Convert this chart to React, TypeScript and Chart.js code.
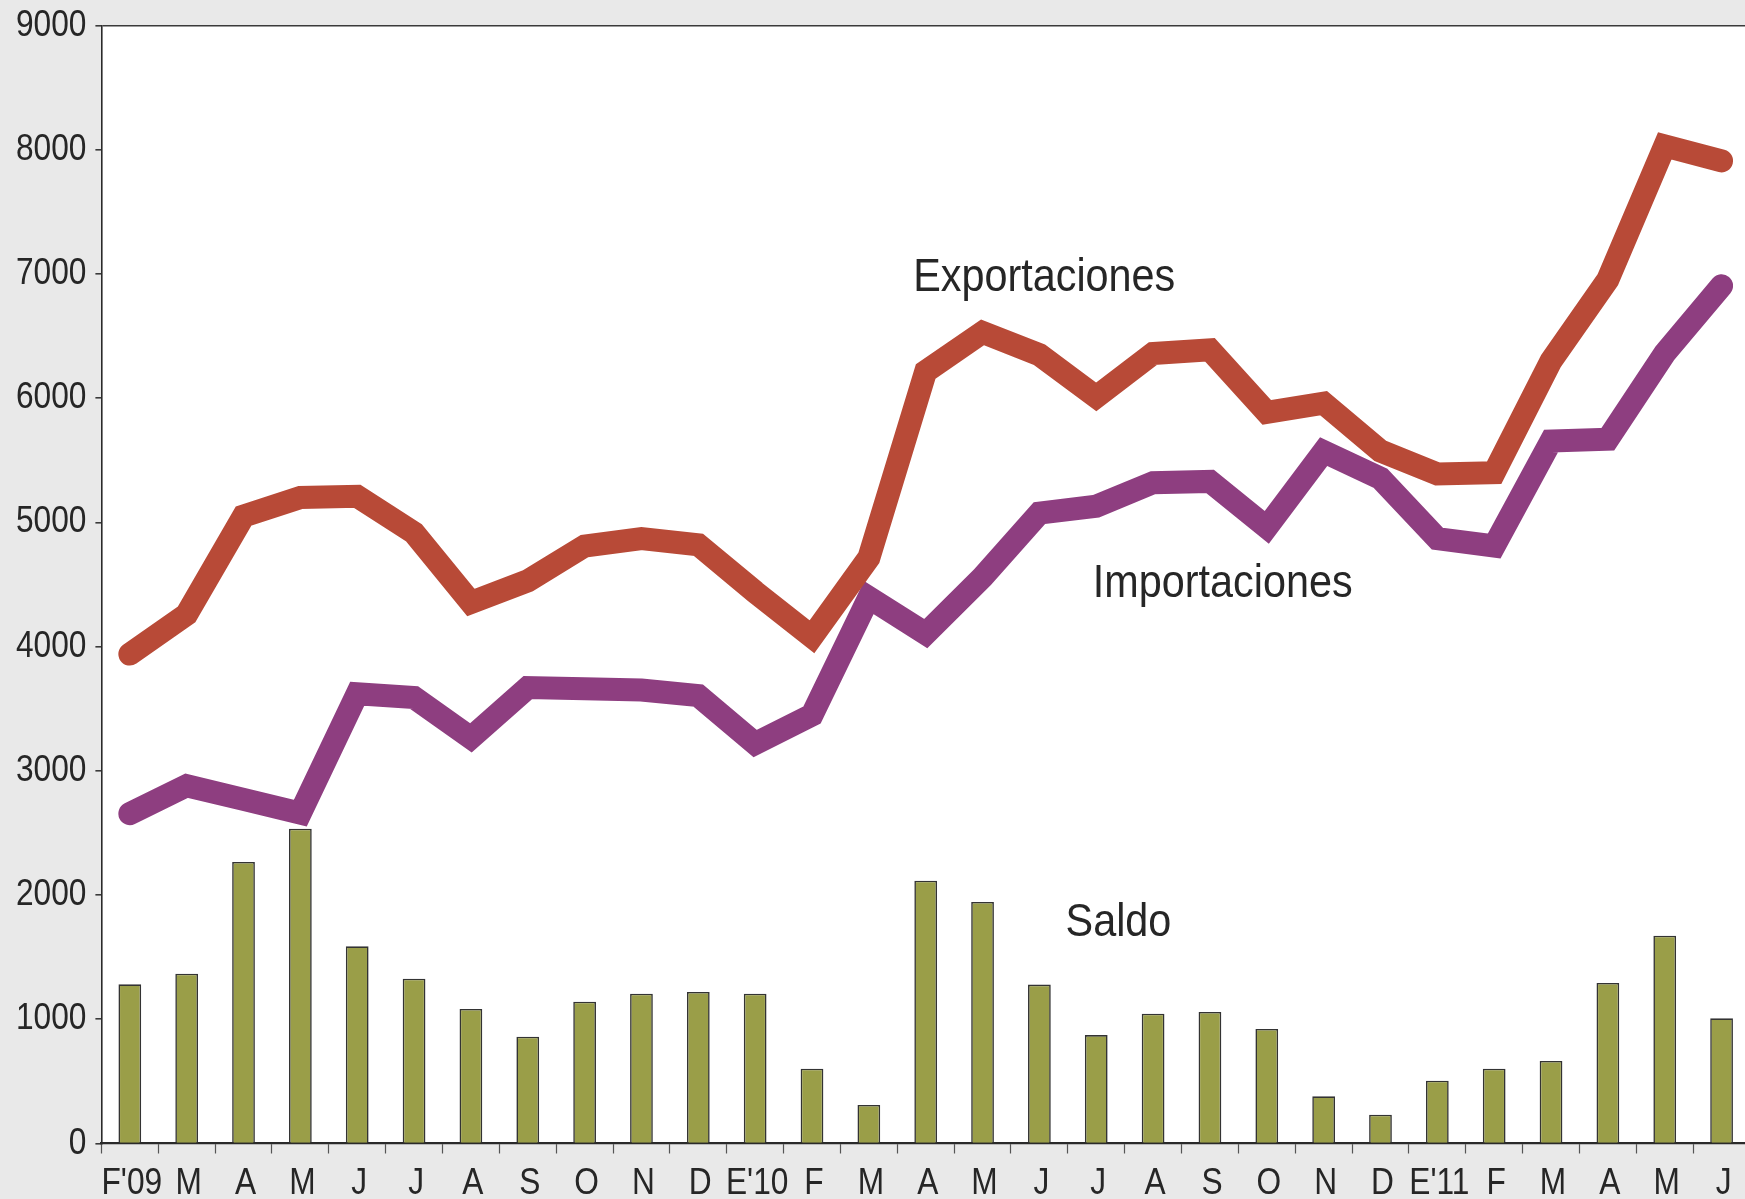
import React, { useEffect, useRef } from "react";
import { Chart, registerables } from "chart.js";

Chart.register(...registerables);

const categories = [
  "F'09", "M", "A", "M", "J", "J", "A", "S", "O", "N", "D",
  "E'10", "F", "M", "A", "M", "J", "J", "A", "S", "O", "N", "D",
  "E'11", "F", "M", "A", "M", "J",
];

const exportaciones = [
  3940, 4260, 5050, 5200, 5210, 4915, 4355, 4530, 4810, 4870, 4820,
  4440, 4080, 4715, 6215, 6530, 6350, 6010, 6360, 6390, 5885, 5960, 5575,
  5390, 5400, 6300, 6955, 8030, 7910,
];

const importaciones = [
  2655, 2880, 2770, 2660, 3620, 3590, 3265, 3670, 3660, 3650, 3605,
  3220, 3450, 4395, 4105, 4560, 5075, 5130, 5320, 5330, 4960, 5570, 5355,
  4870, 4810, 5655, 5670, 6360, 6905,
];

const saldo = [
  1281, 1367, 2266, 2534, 1587, 1327, 1083, 860, 1142, 1206, 1220,
  1206, 602, 310, 2116, 1944, 1279, 873, 1045, 1059, 922, 380, 232,
  506, 602, 664, 1292, 1673, 1008,
];

const yTicksMin = 0;
const yTicksMax = 9000;
const yTicksStep = 1000;

// text labels anchored on (category index, value)
const labelTexts = ["Exportaciones", "Importaciones", "Saldo"];
const labelIndex = [13.78, 16.94, 16.46];
const labelValue = [6860, 4400, 1670];

const FONT = "'Liberation Sans', Arial, sans-serif";
const CONDENSE = 0.88;
const TEXT_COLOR = "#262626";

export default function App() {
  const ref = useRef<HTMLCanvasElement | null>(null);

  useEffect(() => {
    if (!ref.current) return;
    const bgPlugin = {
      id: "bgPlugin",
      beforeDraw(chart: any) {
        const { ctx, chartArea } = chart;
        ctx.save();
        ctx.fillStyle = "#e9e9e9";
        ctx.fillRect(0, 0, chart.width, chart.height);
        ctx.fillStyle = "#ffffff";
        ctx.fillRect(chartArea.left, chartArea.top, chartArea.right - chartArea.left, chartArea.bottom - chartArea.top);
        ctx.restore();
      },
    };
    const condensedText = (ctx: any, text: string, x: number, y: number) => {
      ctx.save();
      ctx.scale(CONDENSE, 1);
      ctx.fillText(text, x / CONDENSE, y);
      ctx.restore();
    };
    const textPlugin = {
      id: "textPlugin",
      afterDraw(chart: any) {
        const { ctx } = chart;
        const xs = chart.scales.x;
        const ys = chart.scales.y;
        ctx.save();
        ctx.fillStyle = TEXT_COLOR;
        // annotations
        ctx.font = `47px ${FONT}`;
        ctx.textAlign = "left";
        ctx.textBaseline = "alphabetic";
        labelTexts.forEach((t, i) => {
          condensedText(ctx, t, xs.getPixelForValue(labelIndex[i]), ys.getPixelForValue(labelValue[i]));
        });
        // y tick labels
        ctx.font = `36px ${FONT}`;
        ctx.textAlign = "right";
        ys.ticks.forEach((tk: any) => {
          const py = ys.getPixelForValue(tk.value);
          condensedText(ctx, String(tk.value), ys.right - 15, py + 10);
        });
        // x tick labels
        ctx.textAlign = "center";
        categories.forEach((c, i) => {
          condensedText(ctx, c, xs.getPixelForTick(i) + 2, xs.top + 50);
        });
        ctx.restore();
      },
    };

    const chart = new Chart(ref.current, {
      type: "bar",
      data: {
        labels: categories,
        datasets: [
          {
            type: "line",
            label: "Exportaciones",
            data: exportaciones,
            borderColor: "#b84a37",
            backgroundColor: "#b84a37",
            borderWidth: 23,
            borderCapStyle: "round",
            borderJoinStyle: "miter",
            pointRadius: 0,
            tension: 0,
            order: 1,
          } as any,
          {
            type: "line",
            label: "Importaciones",
            data: importaciones,
            borderColor: "#8e3e80",
            backgroundColor: "#8e3e80",
            borderWidth: 23,
            borderCapStyle: "round",
            borderJoinStyle: "miter",
            pointRadius: 0,
            tension: 0,
            order: 1,
          } as any,
          {
            type: "bar",
            label: "Saldo",
            data: saldo,
            backgroundColor: "#9a9e48",
            borderColor: "#333333",
            borderWidth: 1.6,
            barPercentage: 0.4,
            categoryPercentage: 1.0,
            order: 2,
          } as any,
        ],
      },
      options: {
        animation: false,
        responsive: false,
        maintainAspectRatio: false,
        devicePixelRatio: 1,
        layout: { padding: { top: 25.5, right: 2, left: 0, bottom: 0 } },
        plugins: {
          legend: { display: false },
          tooltip: { enabled: false },
        },
        scales: {
          x: {
            offset: true,
            grid: {
              offset: true,
              drawOnChartArea: false,
              drawTicks: true,
              tickLength: 10,
              tickColor: "#555555",
              tickWidth: 1.2,
            },
            border: { display: true, color: "#2a2a2a", width: 2.2 },
            ticks: {
              display: false,
              autoSkip: false,
              maxRotation: 0,
            },
            afterFit(scale: any) {
              scale.height = 55.5;
            },
          },
          y: {
            min: yTicksMin,
            max: yTicksMax,
            grid: {
              drawOnChartArea: true,
              color: (c: any) => (c.tick && c.tick.value === yTicksMax ? "#3a3a3a" : "rgba(0,0,0,0)"),
              lineWidth: 1.6,
              tickLength: 6,
              tickColor: "#3a3a3a",
            },
            border: { display: true, color: "#2a2a2a", width: 1.6 },
            ticks: {
              display: false,
              stepSize: yTicksStep,
            },
            afterFit(scale: any) {
              scale.width = 101.4;
            },
          },
        },
      },
      plugins: [bgPlugin, textPlugin],
    });
    return () => chart.destroy();
  }, []);

  return (
    <div
      style={{
        position: "fixed",
        left: 0,
        top: 0,
        width: 1745,
        height: 1199,
        overflow: "hidden",
        background: "#e9e9e9",
      }}
    >
      <canvas ref={ref} width={1752} height={1199} style={{ width: 1752, height: 1199, display: "block" }} />
    </div>
  );
}
